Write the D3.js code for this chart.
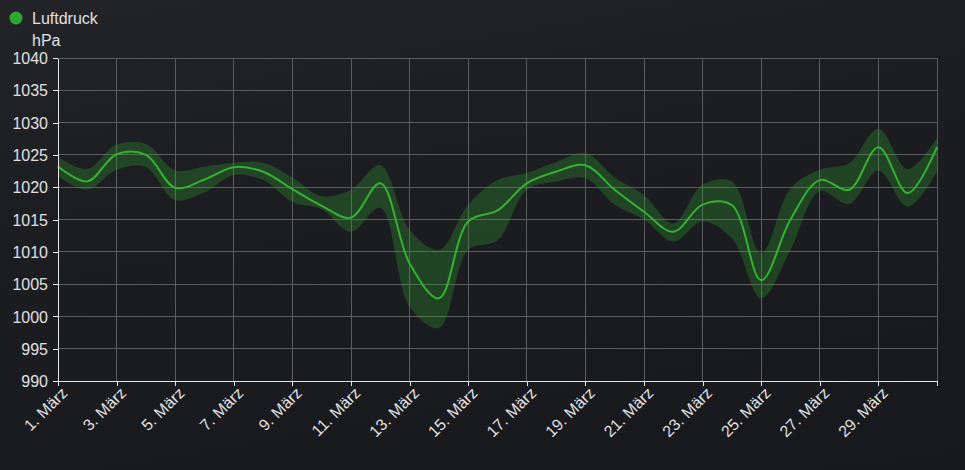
<!DOCTYPE html>
<html>
<head>
<meta charset="utf-8">
<script src="https://cdn.jsdelivr.net/npm/d3@7"></script>
<style>
  html, body { margin: 0; padding: 0; }
  body { width: 965px; height: 470px; overflow: hidden;
         background: linear-gradient(170deg, #232428 0%, #1d1e22 30%, #17181b 100%); }
  svg text { font-family: "Liberation Sans", Arial, sans-serif; }
</style>
</head>
<body>
<div id="chart"></div>
<script>
// days of March
var days = d3.range(1, 32);
// daily pressure (hPa)
var pressure = [1023.2, 1020.9, 1025.1, 1025.0, 1019.9, 1021.2, 1023.1, 1022.4, 1019.7, 1017.1,
                1015.3, 1020.6, 1008.2, 1002.8, 1014.7, 1016.4, 1020.6, 1022.4, 1023.4, 1019.6,
                1016.2, 1013.1, 1017.3, 1017.2, 1005.6, 1015.0, 1021.1, 1019.6, 1026.2, 1019.1, 1026.2];
var pressureMin = [1021.7, 1019.6, 1022.7, 1023.1, 1018.0, 1019.2, 1021.9, 1021.1, 1017.7, 1016.6,
                   1013.1, 1016.8, 1001.5, 998.2, 1010.3, 1011.8, 1019.6, 1020.9, 1021.4, 1017.3,
                   1015.0, 1011.6, 1014.7, 1012.1, 1002.8, 1010.3, 1019.4, 1017.4, 1022.6, 1017.0, 1022.4];
var pressureMax = [1024.7, 1022.8, 1026.6, 1026.7, 1022.6, 1023.2, 1023.8, 1023.8, 1021.5, 1018.6,
                   1019.6, 1023.4, 1013.4, 1010.3, 1017.3, 1021.1, 1022.2, 1023.9, 1025.3, 1021.5,
                   1018.8, 1014.4, 1020.4, 1020.9, 1009.8, 1019.8, 1022.7, 1023.7, 1029.0, 1022.8, 1027.6];
var yTicks = d3.range(990, 1041, 5);
var xTickDays = d3.range(1, 31, 2);

var monthNames = ["Januar","Februar","März","April","Mai","Juni","Juli","August","September","Oktober","November","Dezember"];

var W = 965, H = 470;
var margin = {top: 58, right: 28, bottom: 89, left: 58},
    width = W - margin.left - margin.right,
    height = H - margin.top - margin.bottom;

var svg = d3.select("#chart")
  .append("svg")
    .attr("width", W)
    .attr("height", H);

var data = days.map(function(d, i) {
  return { t: new Date(2024, 2, d), v: pressure[i], lo: pressureMin[i], hi: pressureMax[i] };
});

var x = d3.scaleTime()
  .domain([new Date(2024, 2, 1), new Date(2024, 2, 31)])
  .range([0, width]);
var y = d3.scaleLinear()
  .domain([990, 1040])
  .range([height, 0]);

var g = svg.append("g")
  .attr("transform", "translate(" + margin.left + "," + margin.top + ")");

// grid lines
var gridColor = "#5c5d61";
g.append("g").selectAll("line.h")
  .data(yTicks.slice(1))
  .join("line")
    .attr("x1", 0).attr("x2", width)
    .attr("y1", function(d) { return y(d); })
    .attr("y2", function(d) { return y(d); })
    .attr("stroke", gridColor).attr("stroke-width", 1)
    .attr("shape-rendering", "crispEdges");
var vGrid = xTickDays.slice(1).map(function(d) { return new Date(2024, 2, d); })
  .concat([new Date(2024, 2, 31)]);
g.append("g").selectAll("line.v")
  .data(vGrid)
  .join("line")
    .attr("x1", function(d) { return x(d); })
    .attr("x2", function(d) { return x(d); })
    .attr("y1", 0).attr("y2", height)
    .attr("stroke", gridColor).attr("stroke-width", 1)
    .attr("shape-rendering", "crispEdges");

// min/max band
g.append("path")
  .datum(data)
  .attr("fill", "#2fa12f")
  .attr("fill-opacity", 0.3)
  .attr("d", d3.area()
    .curve(d3.curveCatmullRom.alpha(0.5))
    .x(function(d) { return x(d.t); })
    .y0(function(d) { return y(d.lo); })
    .y1(function(d) { return y(d.hi); }));

// mean line
g.append("path")
  .datum(data)
  .attr("fill", "none")
  .attr("stroke", "#35b035")
  .attr("stroke-width", 2)
  .attr("d", d3.line()
    .curve(d3.curveCatmullRom.alpha(0.5))
    .x(function(d) { return x(d.t); })
    .y(function(d) { return y(d.v); }));

// Y axis
var yAxis = g.append("g")
  .call(d3.axisLeft(y).tickValues(yTicks).tickFormat(d3.format("d"))
    .tickSize(5).tickSizeOuter(0).tickPadding(5));
yAxis.selectAll("path, line").attr("stroke", "#e6e6e6").attr("shape-rendering", "crispEdges");
yAxis.selectAll("text").attr("fill", "#e0e0e3").style("font-size", "16px").attr("dy", "0.35em");

// X axis
var xAxis = g.append("g")
  .attr("transform", "translate(0," + height + ")")
  .call(d3.axisBottom(x)
    .tickValues(xTickDays.map(function(d) { return new Date(2024, 2, d); }))
    .tickFormat(function(d) { return d.getDate() + ". " + monthNames[d.getMonth()]; })
    .tickSize(5).tickSizeOuter(5));
xAxis.selectAll("path, line").attr("stroke", "#e6e6e6").attr("shape-rendering", "crispEdges");
xAxis.selectAll("text")
  .attr("fill", "#e0e0e3")
  .style("font-size", "16px")
  .style("text-anchor", "end")
  .attr("y", 0).attr("dx", 0).attr("dy", 0)
  .attr("transform", "translate(10,13) rotate(-45)");

// legend
svg.append("circle")
  .attr("cx", 16).attr("cy", 18).attr("r", 6.5)
  .attr("fill", "#2fa82f");
svg.append("text")
  .attr("x", 32).attr("y", 24)
  .attr("fill", "#e0e0e3")
  .style("font-size", "16px")
  .text("Luftdruck");
svg.append("text")
  .attr("x", 32).attr("y", 46)
  .attr("fill", "#e0e0e3")
  .style("font-size", "16px")
  .text("hPa");
</script>
</body>
</html>
